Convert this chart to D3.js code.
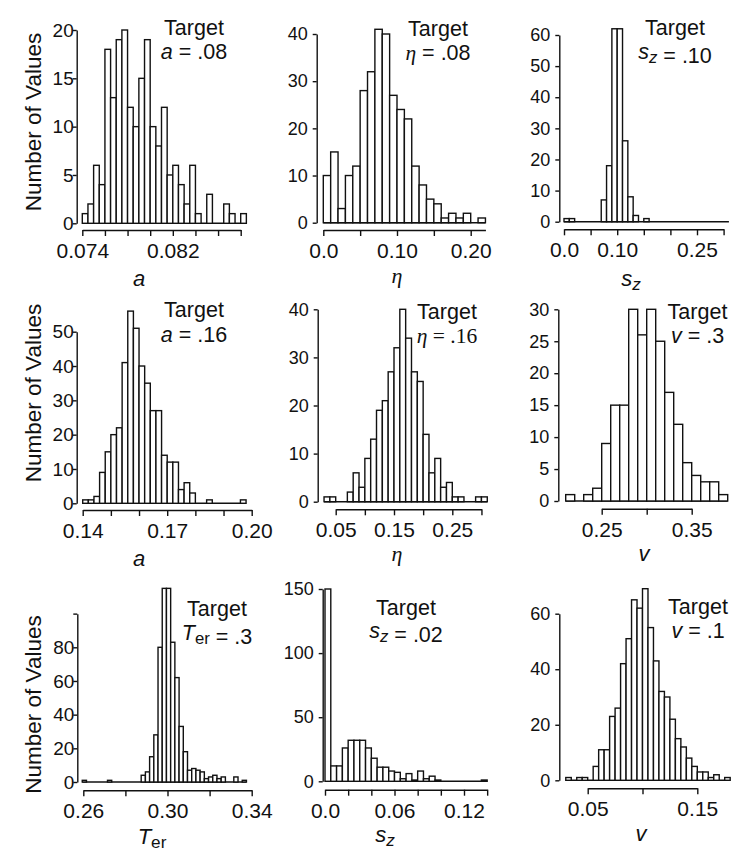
<!DOCTYPE html>
<html><head><meta charset="utf-8">
<script src="https://cdn.jsdelivr.net/npm/d3@7"></script>
<style>
body{margin:0;background:#fff}
svg{display:block}
text{font-family:"Liberation Sans",Arial,Helvetica,sans-serif;fill:#111}
.serif{font-family:"Liberation Serif","DejaVu Serif",serif}
</style>
</head><body>
<svg id="chart" width="750" height="853"></svg>
<script>
// ---------- DATA ----------
// histogram bin starts / widths for the nine panels
const binStarts = [0.074, 0.0, 0.0, 0.140, 0.03, 0.21, 0.2595, 0.0, 0.03];
const binWidths = [0.0005, 0.01, 0.01, 0.002, 0.01, 0.01, 0.002, 0.005, 0.005];

const countsA08 = [1,2,6,4,18,13,19,20,12,10,15,19,10,8,12,5,6,4,2,6,1,0,3,0,0,2,1,0,1];
const countsEta08 = [10,15,3,10,12,28,32,41,40,27,24,22,12,8,5,4,1,2,1,2,0,1];
const countsSz10 = [1,1,0,0,0,0,0,7,18,62,62,26,8,2,0,1,0,0,0,0,0,0,0,0,0,0,0,0,0,0,0];
const countsA16 = [1,1,2,9,15,20,22,41,56,51,40,35,27,27,14,12,12,4,6,3,0,0,1,0,0,0,0,0,1];
const countsEta16 = [1,1,0,0,2,6,3,9,13,19,21,27,32,40,34,27,25,14,6,9,3,4,1,1,0,0,1,1];
const countsV3 = [1,0,1,2,9,15,15,30,26,30,25,17,12,6,4,3,3,1];
const countsTer3 = [1,0,0,0,0,0,1,0,0,0,0,0,0,0,
                    4,6,15,28,80,115,115,83,62,33,18,7,8,7,6,2,3,4,2,3,0,0,3,0,1];
const countsSz02 = [150,12,12,26,32,32,32,26,18,11,11,8,7,2,6,1,8,2,4,1,0,0,0,0,0,0,0,1];
const countsV1 = [1,0,1,1,0,5,11,11,23,26,42,51,65,62,69,55,43,32,30,22,15,12,8,5,3,3,1,2,0,1];

// tick values and tick labels
const xTicksA08 = [0.074,0.076,0.078,0.080,0.082,0.084,0.086,0.088];
const xTextA08  = ["0.074","","","","0.082","","",""];
const xTicksEta08 = [0,0.05,0.10,0.15,0.20];
const xTextEta08  = ["0.0","","0.10","","0.20"];
const xTicksSz10 = [0,0.05,0.10,0.15,0.20,0.25,0.30];
const xTextSz10  = ["0.0","","0.10","","","0.25",""];
const xTicksA16 = [0.14,0.15,0.16,0.17,0.18,0.19,0.20];
const xTextA16  = ["0.14","","","0.17","","","0.20"];
const xTicksEta16 = [0.05,0.10,0.15,0.20,0.25,0.30];
const xTextEta16  = ["0.05","","0.15","","0.25",""];
const xTicksV3 = [0.25,0.30,0.35];
const xTextV3  = ["0.25","","0.35"];
const xTicksTer3 = [0.26,0.28,0.30,0.32,0.34];
const xTextTer3  = ["0.26","","0.30","","0.34"];
const xTicksSz02 = [0,0.02,0.04,0.06,0.08,0.10,0.12,0.14];
const xTextSz02  = ["0.0","","","0.06","","","0.12",""];
const xTicksV1 = [0.05,0.10,0.15];
const xTextV1  = ["0.05","","0.15"];

const yTicksA08 = [0,5,10,15,20];
const yTicksEta08 = [0,10,20,30,40];
const yTicksSz10 = [0,10,20,30,40,50,60];
const yTicksA16 = [0,10,20,30,40,50];
const yTicksEta16 = [0,10,20,30,40];
const yTicksV3 = [0,5,10,15,20,25,30];
const yTicksTer3 = [0,20,40,60,80,100];
const yTextTer3 = ["0","20","40","60","80",""];
const yTicksSz02 = [0,50,100,150];
const yTicksV1 = [0,20,40,60];

const targetValues = [".08",".08",".10",".16",".16",".3",".3",".02",".1"];
const paramNames = ["a","eta","sz","a","eta","v","Ter","sz","v"];
const yTitle = "Number of Values";

// ---------- LAYOUT ----------
const panels = [
 {c:countsA08, xd:[0.074,0.088], xr:[82.3,240.7], xe:[0.074,0.088], yd:[0,20], yr:[223.3,30], yTop:20,
  ax:76.7, ay:230, xt:xTicksA08, xs:xTextA08, yt:yTicksA08, ys:null, gap:3, yfs:19,
  tx:194, ty:35, t2y:58.5, lx:139, ly:286},
 {c:countsEta08, xd:[0,0.20], xr:[323.3,470.7], xe:[0,0.22], yd:[0,40], yr:[222.7,34], yTop:40,
  ax:316.7, ay:230, xt:xTicksEta08, xs:xTextEta08, yt:yTicksEta08, ys:null, gap:9, yfs:18,
  tx:438, ty:36, t2y:60, lx:397, ly:283},
 {c:countsSz10, xd:[0,0.25], xr:[564,697], xe:[0,0.30], yd:[0,60], yr:[221.7,35], yTop:60,
  ax:559.3, ay:229.3, xt:xTicksSz10, xs:xTextSz10, yt:yTicksSz10, ys:null, gap:9, yfs:18,
  tx:675, ty:35, t2y:59, lx:631, ly:286},
 {c:countsA16, xd:[0.14,0.20], xr:[82.7,251.7], xe:[0.14,0.20], yd:[0,50], yr:[503.3,331.7], yTop:50,
  ax:76.7, ay:510, xt:xTicksA16, xs:xTextA16, yt:yTicksA16, ys:null, gap:3, yfs:19,
  tx:194, ty:317, t2y:341.5, lx:139, ly:566},
 {c:countsEta16, xd:[0.05,0.25], xr:[335.7,452.3], xe:[0.05,0.30], yd:[0,40], yr:[501.7,309.3], yTop:40,
  ax:317.7, ay:509.3, xt:xTicksEta16, xs:xTextEta16, yt:yTicksEta16, ys:null, gap:9, yfs:18,
  tx:447, ty:318.5, t2y:342.5, lx:397, ly:561},
 {c:countsV3, xd:[0.25,0.35], xr:[601.7,691.7], xe:[0.25,0.35], yd:[0,30], yr:[501,309.3], yTop:30,
  ax:558.3, ay:508.7, xt:xTicksV3, xs:xTextV3, yt:yTicksV3, ys:null, gap:9, yfs:18,
  tx:697.5, ty:318.5, t2y:343, lx:644, ly:561},
 {c:countsTer3, xd:[0.26,0.34], xr:[83.3,251.7], xe:[0.26,0.34], yd:[0,80], yr:[782,647.3], yTop:100,
  ax:77.3, ay:790.3, xt:xTicksTer3, xs:xTextTer3, yt:yTicksTer3, ys:yTextTer3, gap:3, yfs:19,
  tx:217, ty:615.5, t2y:640, lx:152, ly:844},
 {c:countsSz02, xd:[0,0.12], xr:[325,464], xe:[0,0.14], yd:[0,150], yr:[781.3,589], yTop:150,
  ax:322.7, ay:789.7, xt:xTicksSz02, xs:xTextSz02, yt:yTicksSz02, ys:null, gap:9, yfs:18,
  tx:406, ty:614.5, t2y:638, lx:385, ly:842},
 {c:countsV1, xd:[0.05,0.15], xr:[587.7,697.3], xe:[0.05,0.15], yd:[0,60], yr:[780.3,613.7], yTop:60,
  ax:559.3, ay:788.3, xt:xTicksV1, xs:xTextV1, yt:yTicksV1, ys:null, gap:9, yfs:18,
  tx:698, ty:614, t2y:637.5, lx:641, ly:841}
];
const yTitleCenters = [122, 393, 704.5];

const svg = d3.select("#chart");
const SW = 1.4;

// writes the parameter symbol into a text element
function addSymbol(t, name){
  if(name==="a"){ t.append("tspan").attr("font-style","italic").text("a"); }
  else if(name==="v"){ t.append("tspan").attr("font-style","italic").text("v"); }
  else if(name==="eta"){ t.append("tspan").attr("class","serif").attr("font-style","italic").text("\u03b7"); }
  else if(name==="sz"){
    t.append("tspan").attr("font-style","italic").text("s");
    t.append("tspan").attr("font-style","italic").attr("font-size","0.78em").attr("dy","0.25em").text("z");
    t.append("tspan").attr("dy","-0.2em").text("");
  } else if(name==="Ter"){
    t.append("tspan").attr("font-style","italic").text("T");
    t.append("tspan").attr("font-size","0.78em").attr("dy","0.25em").text("er");
    t.append("tspan").attr("dy","-0.2em").text("");
  }
}

panels.forEach((p, k) => {
  const g = svg.append("g");
  const x = d3.scaleLinear().domain(p.xd).range(p.xr);
  const y = d3.scaleLinear().domain(p.yd).range(p.yr);
  const start = binStarts[k], w = binWidths[k];

  // baseline along the histogram
  g.append("line")
    .attr("x1", x(start)).attr("x2", x(start + p.c.length*w))
    .attr("y1", y(0)).attr("y2", y(0))
    .attr("stroke","#111").attr("stroke-width",SW);

  // bars
  g.selectAll("rect.bar").data(p.c.map((v,i)=>({v,i})).filter(d=>d.v>0))
    .join("rect").attr("class","bar")
    .attr("x", d => x(start + d.i*w))
    .attr("width", d => x(start + (d.i+1)*w) - x(start + d.i*w))
    .attr("y", d => y(d.v))
    .attr("height", d => y(0) - y(d.v))
    .attr("fill","#fff").attr("stroke","#111").attr("stroke-width",SW);

  // x axis (offset)
  const xa = x.copy().domain(p.xe).range(p.xe.map(x));
  const xAxis = d3.axisBottom(xa).tickValues(p.xt).tickSize(6).tickSizeOuter(0).tickPadding(7)
     .tickFormat((d,i)=>p.xs[i]);
  const gx = g.append("g").attr("transform",`translate(0,${p.ay})`).call(xAxis);
  gx.selectAll("path,line").attr("stroke","#111").attr("stroke-width",SW);
  gx.selectAll("text").attr("font-size","21px").attr("fill","#111")
    .attr("font-family","'Liberation Sans',Arial,sans-serif");

  // y axis
  const ya = y.copy().domain([0,p.yTop]).range([y(0), y(p.yTop)]);
  const yAxis = d3.axisLeft(ya).tickValues(p.yt).tickSize(4).tickSizeOuter(0).tickPadding(p.gap-4)
     .tickFormat((d,i)=> p.ys ? p.ys[i] : String(d));
  const gy = g.append("g").attr("transform",`translate(${p.ax},0)`).call(yAxis);
  gy.selectAll("path,line").attr("stroke","#111").attr("stroke-width",SW);
  gy.selectAll("text").attr("font-size",p.yfs+"px").attr("fill","#111")
    .attr("font-family","'Liberation Sans',Arial,sans-serif");

  // Target label
  g.append("text").attr("x",p.tx).attr("y",p.ty).attr("text-anchor","middle")
    .attr("font-size","21.5px").text("Target");
  const t2 = g.append("text").attr("x",p.tx).attr("y",p.t2y).attr("text-anchor","middle")
    .attr("font-size","21.5px");
  if(k===4) t2.attr("class","serif");
  addSymbol(t2, paramNames[k]);
  t2.append("tspan").text(" = " + targetValues[k]);

  // x title
  const xt = g.append("text").attr("x",p.lx).attr("y",p.ly).attr("text-anchor","middle")
    .attr("font-size","22px");
  addSymbol(xt, paramNames[k]);
});

// y titles for the left column
yTitleCenters.forEach(cy => {
  svg.append("text").attr("transform",`translate(41,${cy}) rotate(-90)`)
    .attr("text-anchor","middle").attr("font-size","22.5px").text(yTitle);
});
</script>
</body></html>
